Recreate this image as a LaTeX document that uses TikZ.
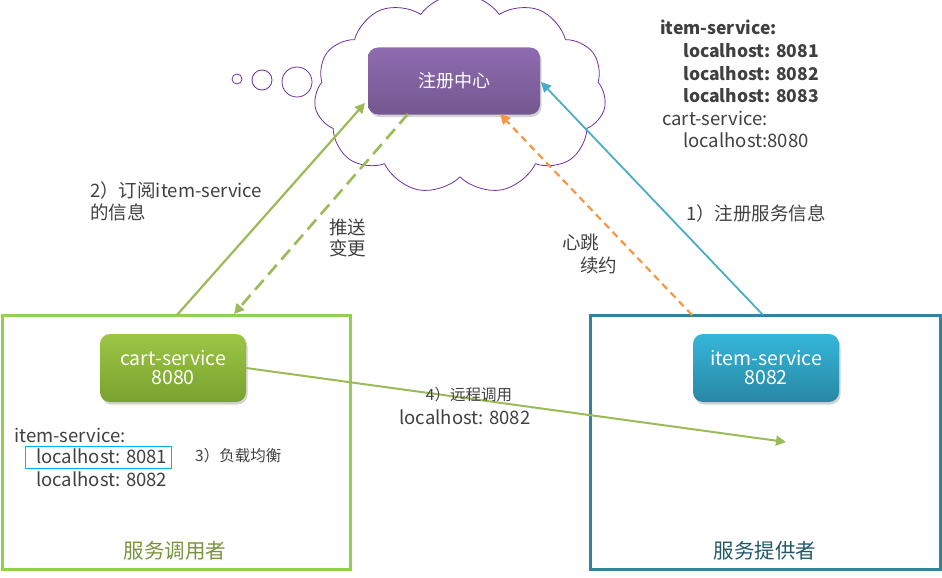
\documentclass[tikz,border=0pt]{standalone}
\usepackage{fontspec}
\setmainfont{Noto Sans CJK SC}
\usetikzlibrary{shapes.symbols,arrows.meta,shadows}
\definecolor{txt}{HTML}{404040}
\definecolor{cloudc}{HTML}{7030A0}
\definecolor{gline}{HTML}{9BBB59}
\definecolor{gbox}{HTML}{92D050}
\definecolor{tbox}{HTML}{31849B}
\definecolor{bline}{HTML}{4BACC6}
\definecolor{oline}{HTML}{F79646}
\definecolor{selb}{HTML}{00B0F0}
\definecolor{regtop}{HTML}{8E6BB0}
\definecolor{regbot}{HTML}{74588F}
\definecolor{carttop}{HTML}{9DC545}
\definecolor{cartbot}{HTML}{78A22E}
\definecolor{itemtop}{HTML}{36B6DA}
\definecolor{itembot}{HTML}{2887A4}
\definecolor{consc}{HTML}{77933C}
\definecolor{provc}{HTML}{215868}
\begin{document}
\begin{tikzpicture}[x=1pt,y=-1pt,
  lbl/.style={inner sep=0pt,text=txt,font=\fontsize{18.5}{22}\selectfont,text height=14.5pt,text depth=2pt},
  bld/.style={lbl,font=\fontsize{17.5}{21}\selectfont\bfseries},
  small/.style={inner sep=0pt,text=txt,font=\fontsize{15.5}{18}\selectfont,text height=12pt,text depth=2pt},
  svc/.style={rounded corners=10pt,minimum width=146pt,minimum height=68pt,align=center,text=white,
     font=\fontsize{19.5}{23}\selectfont,drop shadow={opacity=0.35,shadow xshift=1.5pt,shadow yshift=-2.5pt}},
  tip/.style={-{Triangle[length=10pt,width=10pt]}},
  bubble/.style={draw=cloudc,line width=0.8pt}
]
\useasboundingbox (0,0) rectangle (942,578);

% cloud and thought bubbles
\node[cloud,cloud puffs=11,cloud puff arc=110,aspect=1.45,draw=cloudc,line width=0.8pt,
      minimum width=292pt,minimum height=200pt] (cloud) at (460,94) {};
\draw[bubble] (237,79) circle (5);
\draw[bubble] (262,80) circle (10);
\draw[bubble] (297,82) circle (15);

% containers
\node[draw=gbox,line width=3pt,minimum width=348pt,minimum height=254pt,inner sep=0pt] (consumer) at (176,442) {};
\node[draw=tbox,line width=3pt,minimum width=350pt,minimum height=254pt,inner sep=0pt] (provider) at (765.5,442) {};

% service boxes
\node[svc,top color=regtop,bottom color=regbot,minimum width=172pt,minimum height=67pt,font=\fontsize{18}{22}\selectfont] (reg) at (454,81) {注册中心};
\node[svc,top color=carttop,bottom color=cartbot] (cart) at (173,368) {cart-service\\[-4pt]8080};
\node[svc,top color=itemtop,bottom color=itembot] (item) at (766,368) {item-service\\[-4pt]8082};

% connector end points
\coordinate (c1) at (177,315);
\coordinate (c2) at (234,314);
\coordinate (c3) at (692,315);
\coordinate (c4) at (763,315);
\coordinate (r1) at (365,103);
\coordinate (r2) at (408,114);
\coordinate (r3) at (500,114);
\coordinate (r4) at (541,82);
\coordinate (callend) at (786,442);

% connectors
\draw[tip,gline,line width=2.2pt] (c1) -- (r1);
\draw[tip,gline,line width=2.6pt,dash pattern=on 13pt off 7pt] (r2) -- (c2);
\draw[tip,oline,line width=2.2pt,dash pattern=on 7pt off 5pt] (c3) -- (r3);
\draw[tip,bline,line width=1.8pt] (c4) -- (r4);
\draw[tip,gline,line width=2pt] (cart.east) -- (callend);

% registry contents
\node[bld,anchor=west] (t1) at (660,28) {item-service:};
\node[bld,anchor=west] (t2) at (683,51) {localhost: 8081};
\node[bld,anchor=west] (t3) at (683,74) {localhost: 8082};
\node[bld,anchor=west] (t4) at (683,96) {localhost: 8083};
\node[lbl,anchor=west] (t5) at (662,119) {cart-service:};
\node[lbl,anchor=west] (t6) at (683,141) {localhost:8080};

% connector labels
\node[lbl,anchor=west] (s1) at (90,191) {2）订阅item-service};
\node[lbl,anchor=west] (s2) at (90,213) {的信息};
\node[lbl,anchor=west] (p1) at (329,228) {推送};
\node[lbl,anchor=west] (p2) at (329,249) {变更};
\node[lbl,anchor=west] (h1) at (562,243) {心跳};
\node[lbl,anchor=west] (h2) at (580,266) {续约};
\node[lbl,anchor=west] (reginfo) at (686,214) {1）注册服务信息};
\node[small] (call1) at (469,395) {4）远程调用};
\node[lbl] (call2) at (465,418) {localhost: 8082};

% consumer local list
\node[lbl,anchor=west] (l1) at (14,436) {item-service:};
\node[draw=selb,line width=0.9pt,minimum width=146pt,minimum height=22pt,inner sep=0pt] (selbox) at (98,457) {};
\node[lbl,anchor=west] (l2) at (36,457) {localhost: 8081};
\node[lbl,anchor=west] (l3) at (36,480) {localhost: 8082};
\node[small,anchor=west] (lb) at (195,456) {3）负载均衡};

% container titles
\node[lbl,font=\fontsize{20.5}{24}\selectfont,text=consc] (ct1) at (175,552) {服务调用者};
\node[lbl,font=\fontsize{20.5}{24}\selectfont,text=provc] (ct2) at (765,552) {服务提供者};
\end{tikzpicture}
\end{document}
